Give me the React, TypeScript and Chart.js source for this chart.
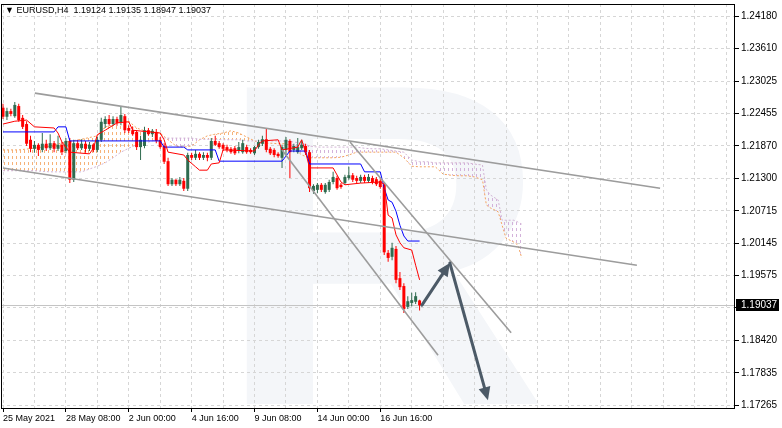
import React, { useEffect, useRef } from 'react';
import { Chart, registerables } from 'chart.js';

Chart.register(...registerables);

// ---------- DATA ----------
const titleText = '▼ EURUSD,H4  1.19124 1.19135 1.18947 1.19037';
const lastPrice = 1.19037;
const lastPriceLabel = '1.19037';

const xLabels = ['25 May 2021', '28 May 08:00', '2 Jun 00:00', '4 Jun 16:00', '9 Jun 08:00', '14 Jun 00:00', '16 Jun 16:00'];
const barsPerLabel = 16;
const barsPerGrid = 8;

const yTicks = [1.17265, 1.17835, 1.1842, 1.18995, 1.19575, 1.20145, 1.20715, 1.213, 1.2187, 1.22455, 1.23025, 1.2361, 1.2418];
const yTickLabels = ['1.17265', '1.17835', '1.18420', '', '1.19575', '1.20145', '1.20715', '1.21300', '1.21870', '1.22455', '1.23025', '1.23610', '1.24180'];

const opens = [
  1.2255, 1.2239, 1.2249, 1.2240, 1.2258, 1.2237, 1.2226, 1.2198, 1.2182, 1.2189,
  1.2180, 1.2191, 1.2183, 1.2192, 1.2182, 1.2189, 1.2178, 1.2196, 1.2127, 1.2192,
  1.2183, 1.2191, 1.2182, 1.2189, 1.2180, 1.2198, 1.2226, 1.2235, 1.2226, 1.2235,
  1.2228, 1.2240, 1.2219, 1.2215, 1.2212, 1.2185, 1.2187, 1.2215, 1.2208, 1.2212,
  1.2198, 1.2187, 1.2160, 1.2119, 1.2127, 1.2119, 1.2125, 1.2111, 1.2171, 1.2166,
  1.2173, 1.2166, 1.2171, 1.2166, 1.2196, 1.2192, 1.2189, 1.2185, 1.2182, 1.2183,
  1.2178, 1.2176, 1.2185, 1.2180, 1.2174, 1.2185, 1.2191, 1.2199, 1.2182, 1.2180,
  1.2173, 1.2166, 1.2180, 1.2196, 1.2180, 1.2176, 1.2183, 1.2187, 1.2176, 1.2107,
  1.2109, 1.2118, 1.2105, 1.2109, 1.2123, 1.2130, 1.2118, 1.2121, 1.2130, 1.2135,
  1.2130, 1.2125, 1.2132, 1.2125, 1.2130, 1.2128, 1.2125, 1.2118, 1.1997, 1.1990,
  1.2004, 1.1952, 1.1938, 1.1901, 1.1908, 1.1910, 1.19124,
];
const highs = [
  1.2262, 1.2255, 1.2253, 1.2265, 1.2262, 1.2242, 1.2231, 1.2205, 1.2196, 1.2192,
  1.2210, 1.2198, 1.2208, 1.2196, 1.2205, 1.2194, 1.2201, 1.2201, 1.2198, 1.2198,
  1.2199, 1.2196, 1.2194, 1.2192, 1.2203, 1.2237, 1.2240, 1.2242, 1.2240, 1.2239,
  1.2258, 1.2244, 1.2224, 1.2221, 1.2215, 1.2205, 1.2221, 1.2219, 1.2217, 1.2217,
  1.2203, 1.2192, 1.2166, 1.2130, 1.2128, 1.2132, 1.2130, 1.2175, 1.2175, 1.2180,
  1.2176, 1.2176, 1.2175, 1.2201, 1.2205, 1.2196, 1.2192, 1.2189, 1.2185, 1.2187,
  1.2194, 1.2198, 1.2189, 1.2183, 1.2187, 1.2198, 1.2205, 1.2219, 1.2185, 1.2183,
  1.2176, 1.2189, 1.2203, 1.2199, 1.2191, 1.2201, 1.2198, 1.2191, 1.2180, 1.2119,
  1.2121, 1.2121, 1.2121, 1.2127, 1.2141, 1.2134, 1.2121, 1.2136, 1.2150, 1.2139,
  1.2134, 1.2136, 1.2136, 1.2137, 1.2134, 1.2132, 1.2128, 1.2123, 1.2002, 1.2015,
  1.2009, 1.1963, 1.1943, 1.1920, 1.1926, 1.1927, 1.19135,
];
const lows = [
  1.2235, 1.2233, 1.2240, 1.2237, 1.2230, 1.2217, 1.2187, 1.2176, 1.2175, 1.2169,
  1.2176, 1.2178, 1.2180, 1.2176, 1.2178, 1.2171, 1.2174, 1.2121, 1.2123, 1.2180,
  1.2180, 1.2175, 1.2178, 1.2176, 1.2176, 1.2194, 1.2219, 1.2223, 1.2223, 1.2223,
  1.2224, 1.2210, 1.2210, 1.2205, 1.2180, 1.2162, 1.2183, 1.2205, 1.2203, 1.2192,
  1.2182, 1.2155, 1.2116, 1.2116, 1.2116, 1.2116, 1.2107, 1.2107, 1.2162, 1.2162,
  1.2162, 1.2162, 1.2160, 1.2162, 1.2187, 1.2182, 1.2178, 1.2176, 1.2173, 1.2171,
  1.2174, 1.2173, 1.2173, 1.2173, 1.2171, 1.2182, 1.2187, 1.2176, 1.2171, 1.2167,
  1.2166, 1.2148, 1.2171, 1.2130, 1.2176, 1.2173, 1.2180, 1.2171, 1.2105, 1.2102,
  1.2103, 1.2105, 1.2102, 1.2105, 1.2119, 1.2109, 1.2111, 1.2118, 1.2127, 1.2123,
  1.2121, 1.2121, 1.2121, 1.2121, 1.2119, 1.2116, 1.2111, 1.1993, 1.1981, 1.1984,
  1.1943, 1.1931, 1.1890, 1.1897, 1.1902, 1.1906, 1.18947,
];
const closes = [
  1.2239, 1.2249, 1.2244, 1.2260, 1.2233, 1.2221, 1.2191, 1.2182, 1.2189, 1.2180,
  1.2191, 1.2183, 1.2192, 1.2182, 1.2189, 1.2176, 1.2196, 1.2127, 1.2192, 1.2183,
  1.2191, 1.2182, 1.2189, 1.2180, 1.2198, 1.2230, 1.2235, 1.2226, 1.2235, 1.2228,
  1.2242, 1.2215, 1.2214, 1.2208, 1.2185, 1.2198, 1.2215, 1.2208, 1.2214, 1.2196,
  1.2185, 1.2159, 1.2119, 1.2127, 1.2119, 1.2127, 1.2111, 1.2171, 1.2166, 1.2173,
  1.2166, 1.2171, 1.2166, 1.2196, 1.2189, 1.2185, 1.2182, 1.2180, 1.2176, 1.2174,
  1.2185, 1.2192, 1.2176, 1.2176, 1.2185, 1.2194, 1.2199, 1.2180, 1.2174, 1.2171,
  1.2169, 1.2185, 1.2198, 1.2176, 1.2187, 1.2185, 1.2189, 1.2176, 1.2112, 1.2116,
  1.2118, 1.2109, 1.2118, 1.2123, 1.2132, 1.2112, 1.2114, 1.2132, 1.2135, 1.2127,
  1.2125, 1.2132, 1.2125, 1.2132, 1.2123, 1.2119, 1.2114, 1.1998, 1.1988, 1.2006,
  1.1949, 1.1936, 1.1897, 1.1911, 1.1913, 1.1920, 1.19037,
];

// Ichimoku lines: [bar index, price]
const tenkan = [
  [0, 1.2226], [3, 1.2231], [6, 1.2233], [8, 1.2221], [13, 1.2219], [14, 1.2210], [15, 1.2194],
  [17, 1.2176], [22, 1.2173], [23, 1.2183], [24, 1.2207], [26, 1.2215], [29, 1.2228], [32, 1.2230],
  [33, 1.2215], [40, 1.2210], [41, 1.2198], [42, 1.2176], [46, 1.2171], [47, 1.2162], [49, 1.2150],
  [50, 1.2144], [52, 1.2144], [53, 1.2155], [55, 1.2157], [56, 1.2180], [64, 1.2178], [65, 1.2189],
  [66, 1.2196], [70, 1.2198], [71, 1.2180], [75, 1.2185], [76, 1.2198], [77, 1.2176], [78, 1.2148],
  [84, 1.2148], [86, 1.2123], [87, 1.2118], [91, 1.2121], [96, 1.2123], [97, 1.2119], [98, 1.2064],
  [99, 1.2059], [100, 1.2029], [101, 1.2015], [102, 1.2006], [104, 1.2002], [105, 1.1975], [106, 1.1949],
];
const kijun = [
  [0, 1.2212], [13, 1.2212], [14, 1.2221], [16, 1.2221], [17, 1.2196], [40, 1.2196], [41, 1.2185],
  [46, 1.2185], [47, 1.2180], [54, 1.2180], [55, 1.2160], [71, 1.2160], [72, 1.2169], [73, 1.2178],
  [77, 1.2178], [78, 1.2155], [91, 1.2155], [92, 1.2141], [96, 1.2141], [97, 1.2112], [98, 1.2091],
  [99, 1.2087], [100, 1.2071], [101, 1.2046], [102, 1.2027], [103, 1.2018], [106, 1.2018],
];
const cloudIndex = [
  0, 4, 8, 12, 16, 20, 24, 26, 28, 30, 32, 34, 36, 38, 40, 42, 44, 46, 48, 50,
  52, 54, 56, 58, 60, 62, 64, 66, 68, 70, 72, 74, 76, 78, 80, 82, 84, 86, 88, 90,
  92, 94, 96, 98, 100, 102, 104, 106, 108, 110, 112, 114, 116, 118, 120, 122, 123, 124, 126, 127,
  128, 130, 131, 132,
];
const senkouA = [
  1.2180, 1.2180, 1.2183, 1.2187, 1.2194, 1.2199, 1.2205, 1.2221, 1.2224, 1.2231,
  1.2231, 1.2219, 1.2214, 1.2212, 1.2210, 1.2198, 1.2187, 1.2185, 1.2187, 1.2198,
  1.2205, 1.2208, 1.2210, 1.2214, 1.2210, 1.2203, 1.2196, 1.2192, 1.2192, 1.2191,
  1.2191, 1.2183, 1.2171, 1.2166, 1.2166, 1.2166, 1.2166, 1.2167, 1.2171, 1.2176,
  1.2176, 1.2176, 1.2176, 1.2176, 1.2176, 1.2166, 1.2151, 1.2150, 1.2150, 1.2150,
  1.2137, 1.2135, 1.2134, 1.2134, 1.2132, 1.2127, 1.2082, 1.2077, 1.2070, 1.2046,
  1.2023, 1.2016, 1.2011, 1.1988,
];
const senkouB = [
  1.2143, 1.2143, 1.2143, 1.2141, 1.2141, 1.2141, 1.2151, 1.2157, 1.2166, 1.2176,
  1.2183, 1.2189, 1.2192, 1.2196, 1.2201, 1.2201, 1.2201, 1.2201, 1.2201, 1.2199,
  1.2199, 1.2199, 1.2198, 1.2198, 1.2198, 1.2196, 1.2196, 1.2196, 1.2196, 1.2196,
  1.2196, 1.2194, 1.2192, 1.2187, 1.2185, 1.2185, 1.2185, 1.2185, 1.2185, 1.2185,
  1.2183, 1.2182, 1.2182, 1.2180, 1.2178, 1.2176, 1.2162, 1.2159, 1.2159, 1.2157,
  1.2157, 1.2157, 1.2157, 1.2157, 1.2155, 1.2153, 1.2109, 1.2100, 1.2091, 1.2055,
  1.2055, 1.2055, 1.2052, 1.2048,
];

// Trend channel lines: pairs of [bar index, price]
const channelLines = [
  [[8.1, 1.2281], [167.2, 1.2112]],
  [[0, 1.2148], [161.3, 1.1975]],
  [[71.0, 1.2180], [110.7, 1.1815]],
  [[88.3, 1.2194], [129.3, 1.1855]],
];
// Forecast arrows path: start, turning point, end
const arrowPath = [[106.6, 1.1904], [113.7, 1.1979], [123.4, 1.1735]];

// ---------- STYLE ----------
const GREEN = '#2f6b4f';
const RED = '#ff0000';
const GRID = '#d6d6d6';
const FONT = '"Liberation Sans", "DejaVu Sans", sans-serif';

export default function App() {
  const ref = useRef<HTMLCanvasElement | null>(null);

  useEffect(() => {
    const canvas = ref.current!;
    const mainCtx = canvas.getContext('2d')!;

    const makeHatch = (color: string) => {
      const c = document.createElement('canvas');
      c.width = 4;
      c.height = 6;
      const g = c.getContext('2d')!;
      g.fillStyle = color;
      g.fillRect(0, 0, 1, 3);
      return mainCtx.createPattern(c, 'repeat')!;
    };
    const orangeHatch = makeHatch('rgba(244,164,96,0.85)');
    const purpleHatch = makeHatch('rgba(206,170,214,0.9)');

    const pts = (arr: number[][]) => arr.map((p) => ({ x: p[0], y: p[1] }));
    const candleColor = (c: any) => (closes[c.dataIndex] >= opens[c.dataIndex] ? GREEN : RED);

    const overlay = {
      id: 'overlay',
      beforeDraw(chart: any) {
        const { ctx } = chart;
        ctx.save();
        ctx.fillStyle = '#f4f6f9';
        ctx.font = 'bold 460px ' + FONT;
        ctx.textBaseline = 'alphabetic';
        ctx.fillText('R', 216, 404);
        ctx.restore();
      },
      beforeDatasetsDraw(chart: any) {
        const { ctx, chartArea, scales } = chart;
        const y = Math.round(scales.y.getPixelForValue(lastPrice)) + 0.5;
        ctx.save();
        ctx.strokeStyle = '#c4c4c4';
        ctx.lineWidth = 1;
        ctx.beginPath();
        ctx.moveTo(chartArea.left, y);
        ctx.lineTo(chartArea.right, y);
        ctx.stroke();
        ctx.restore();
      },
      afterDatasetsDraw(chart: any) {
        const { ctx, chartArea, scales } = chart;
        const P = arrowPath.map((p) => [scales.x.getPixelForValue(p[0]), scales.y.getPixelForValue(p[1])]);
        ctx.save();
        ctx.strokeStyle = '#4c5a67';
        ctx.fillStyle = '#4c5a67';
        ctx.lineWidth = 3;
        ctx.lineCap = 'round';
        for (let i = 1; i < P.length; i++) {
          const [x0, y0] = P[i - 1];
          const [x1, y1] = P[i];
          const dx = x1 - x0;
          const dy = y1 - y0;
          const len = Math.hypot(dx, dy);
          const ux = dx / len;
          const uy = dy / len;
          const L = 13;
          const W = 6;
          ctx.beginPath();
          ctx.moveTo(x0, y0);
          ctx.lineTo(x1 - ux * L * 0.7, y1 - uy * L * 0.7);
          ctx.stroke();
          ctx.beginPath();
          ctx.moveTo(x1, y1);
          ctx.lineTo(x1 - ux * L - uy * W, y1 - uy * L + ux * W);
          ctx.lineTo(x1 - ux * L + uy * W, y1 - uy * L - ux * W);
          ctx.closePath();
          ctx.fill();
        }
        ctx.restore();

        ctx.save();
        ctx.strokeStyle = '#000';
        ctx.lineWidth = 1;
        ctx.strokeRect(chartArea.left + 0.5, chartArea.top + 0.5, chartArea.right - chartArea.left - 1, chartArea.bottom - chartArea.top);
        ctx.restore();
      },
      afterDraw(chart: any) {
        const { ctx, chartArea, scales } = chart;
        ctx.save();
        ctx.fillStyle = '#000';
        ctx.font = '9px ' + FONT;
        ctx.textBaseline = 'middle';
        ctx.textAlign = 'left';
        ctx.fillText(titleText, 5, 11);

        const y = scales.y.getPixelForValue(lastPrice);
        ctx.fillStyle = '#000';
        ctx.fillRect(chartArea.right + 1, Math.round(y) - 6, 43, 12);
        ctx.fillStyle = '#fff';
        ctx.font = '10px ' + FONT;
        ctx.fillText(lastPriceLabel, chartArea.right + 6, Math.round(y) + 0.5);
        ctx.restore();
      },
    };

    const chart = new Chart(canvas, {
      type: 'bar',
      data: {
        datasets: [
          {
            type: 'line',
            label: 'Senkou A',
            data: cloudIndex.map((x, i) => ({ x, y: senkouA[i] })),
            borderColor: '#f4a460',
            borderWidth: 1,
            borderDash: [2, 2],
            pointRadius: 0,
            fill: { target: '+1', above: orangeHatch, below: purpleHatch },
            order: 10,
          } as any,
          {
            type: 'line',
            label: 'Senkou B',
            data: cloudIndex.map((x, i) => ({ x, y: senkouB[i] })),
            borderColor: '#d2b4d6',
            borderWidth: 1,
            borderDash: [2, 2],
            pointRadius: 0,
            fill: false,
            order: 9,
          },
          {
            type: 'bar',
            label: 'Wicks',
            data: opens.map((_, i) => ({ x: i, y: [lows[i], highs[i]] })) as any,
            backgroundColor: candleColor,
            barThickness: 1,
            grouped: false,
            inflateAmount: 0,
            borderWidth: 0,
            order: 6,
          } as any,
          {
            type: 'bar',
            label: 'Bodies',
            data: opens.map((o, i) => ({ x: i, y: [o, closes[i]] })) as any,
            backgroundColor: candleColor,
            barThickness: 3,
            minBarLength: 1,
            grouped: false,
            inflateAmount: 0,
            borderWidth: 0,
            order: 5,
          } as any,
          {
            type: 'line',
            label: 'Kijun',
            data: pts(kijun),
            borderColor: '#0000ff',
            borderWidth: 1,
            pointRadius: 0,
            order: 4,
          },
          {
            type: 'line',
            label: 'Tenkan',
            data: pts(tenkan),
            borderColor: '#ff0000',
            borderWidth: 1,
            pointRadius: 0,
            order: 3,
          },
          ...channelLines.map((ln, k) => ({
            type: 'line' as const,
            label: 'Channel ' + (k + 1),
            data: pts(ln),
            borderColor: '#9c9c9c',
            borderWidth: 1.6,
            pointRadius: 0,
            order: 2,
          })),
        ],
      },
      options: {
        animation: false,
        responsive: false,
        devicePixelRatio: 1,
        events: [],
        layout: { padding: { left: 1, top: 4, right: 0, bottom: 0 } },
        plugins: { legend: { display: false }, tooltip: { enabled: false } },
        scales: {
          x: {
            type: 'linear',
            min: -0.51,
            max: 186.26,
            offset: false,
            grid: {
              color: GRID,
              offset: false,
              drawTicks: true,
              tickLength: 4,
              tickColor: (c: any) => {
                const v = c.tick ? c.tick.value : -1;
                return v % barsPerLabel === 0 && v / barsPerLabel < xLabels.length ? '#000' : 'rgba(0,0,0,0)';
              },
            },
            border: { display: false, dash: [3, 3] },
            ticks: {
              autoSkip: false,
              maxRotation: 0,
              align: 'start',
              padding: 1,
              color: '#000',
              font: { family: FONT, size: 9 },
              callback: (v: any) => {
                const k = Number(v) / barsPerLabel;
                return Number.isInteger(k) && k < xLabels.length ? xLabels[k] : '';
              },
            },
            afterBuildTicks: (axis: any) => {
              const t = [];
              for (let v = 0; v <= 186; v += barsPerGrid) t.push({ value: v });
              axis.ticks = t;
            },
            afterFit: (axis: any) => {
              axis.height = 20;
              axis.paddingLeft = 0;
              axis.paddingRight = 0;
            },
          } as any,
          y: {
            type: 'linear',
            position: 'right',
            min: 1.17212,
            max: 1.24394,
            grid: { color: GRID, drawTicks: true, tickLength: 4, tickColor: '#000' },
            border: { display: false, dash: [3, 3] },
            ticks: {
              padding: 2,
              color: '#000',
              font: { family: FONT, size: 10 },
              callback: (v: any) => {
                const i = yTicks.indexOf(Number(v));
                return i >= 0 ? yTickLabels[i] : '';
              },
            },
            afterBuildTicks: (axis: any) => {
              axis.ticks = yTicks.map((v) => ({ value: v }));
            },
            afterFit: (axis: any) => {
              axis.width = 47;
              axis.paddingTop = 0;
              axis.paddingBottom = 0;
            },
          } as any,
        },
      },
      plugins: [overlay],
    });

    return () => chart.destroy();
  }, []);

  return (
    <div style={{ position: 'fixed', left: 0, top: 0, width: 782, height: 428, background: '#fff' }}>
      <canvas ref={ref} width={782} height={428} style={{ display: 'block' }} />
    </div>
  );
}
